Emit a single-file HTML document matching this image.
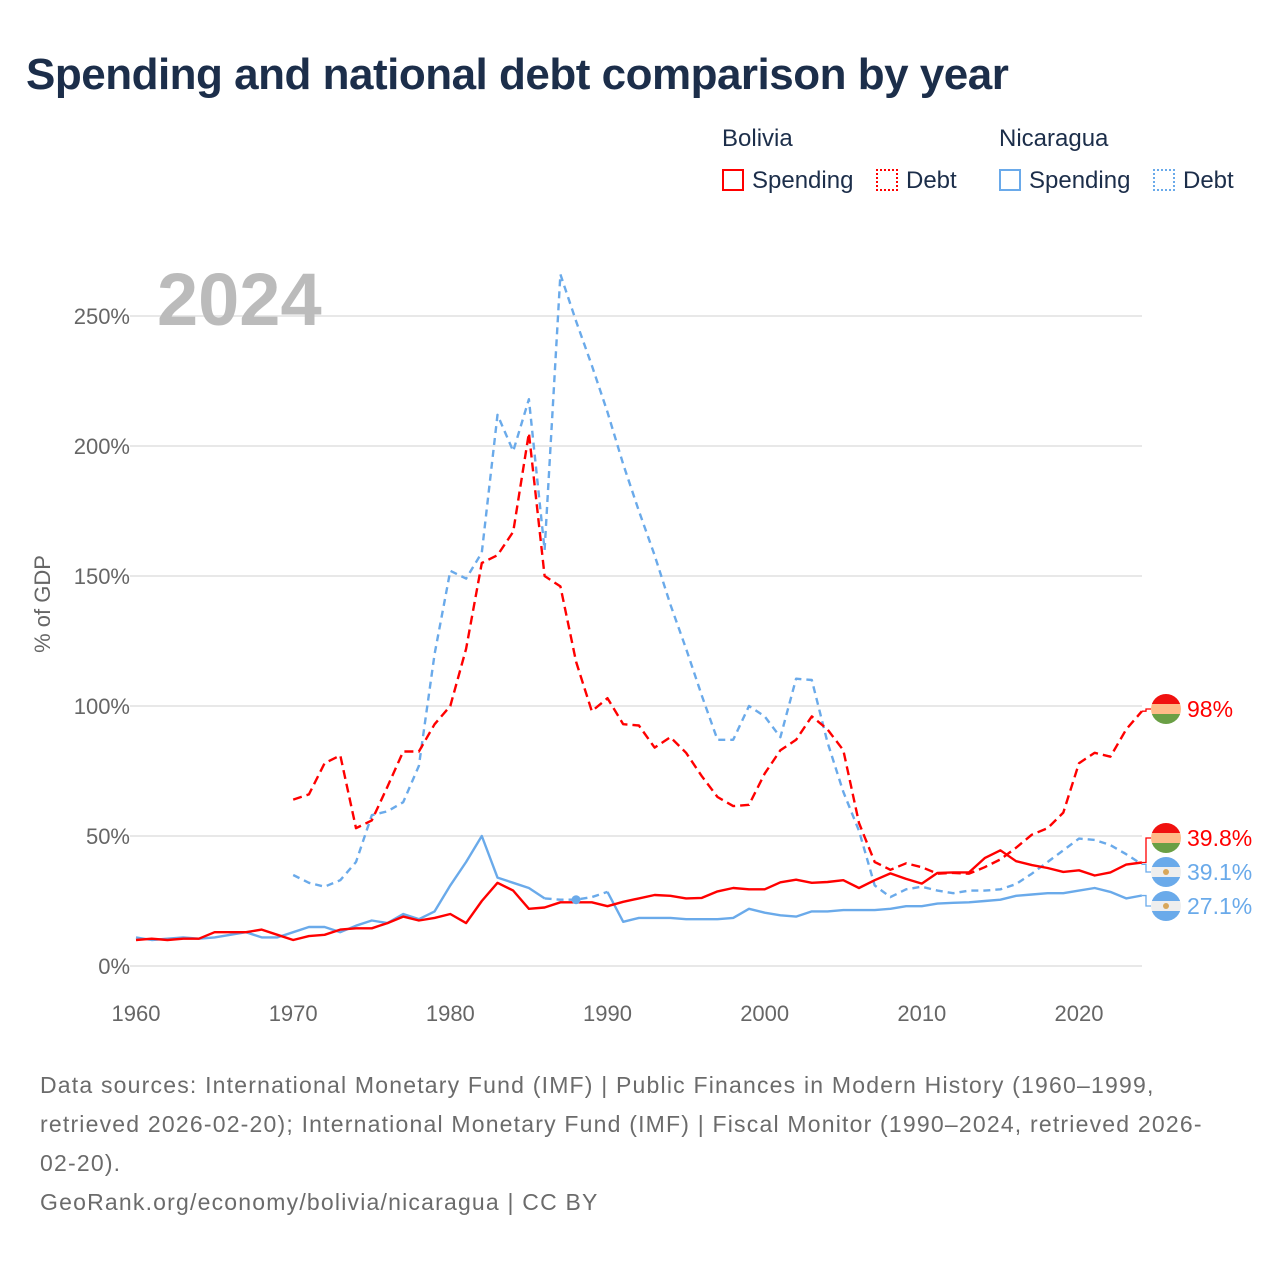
<!DOCTYPE html>
<html><head><meta charset="utf-8"><style>
body{margin:0;background:#fff;font-family:"Liberation Sans",sans-serif;}
#wrap{position:relative;width:1280px;height:1280px;overflow:hidden;}
.t{position:absolute;white-space:nowrap;}
</style></head><body>
<div id="wrap">
<div class="t" style="left:26px;top:50px;font-size:44px;font-weight:bold;color:#1c2e4a;letter-spacing:-0.5px;">Spending and national debt comparison by year</div>
<div class="t" style="left:722px;top:125px;font-size:24px;color:#1c2e4a;">Bolivia</div>
<div class="t" style="left:999px;top:125px;font-size:24px;color:#1c2e4a;">Nicaragua</div>
<div class="t" style="left:722px;top:167px;font-size:24px;color:#1c2e4a;"><span style="display:inline-block;width:22px;height:22px;border:2px solid #f00;box-sizing:border-box;vertical-align:-3px;margin-right:8px"></span>Spending</div>
<div class="t" style="left:876px;top:167px;font-size:24px;color:#1c2e4a;"><span style="display:inline-block;width:22px;height:22px;border:2px dotted #f00;box-sizing:border-box;vertical-align:-3px;margin-right:8px"></span>Debt</div>
<div class="t" style="left:999px;top:167px;font-size:24px;color:#1c2e4a;"><span style="display:inline-block;width:22px;height:22px;border:2px solid #6aaaea;box-sizing:border-box;vertical-align:-3px;margin-right:8px"></span>Spending</div>
<div class="t" style="left:1153px;top:167px;font-size:24px;color:#1c2e4a;"><span style="display:inline-block;width:22px;height:22px;border:2px dotted #6aaaea;box-sizing:border-box;vertical-align:-3px;margin-right:8px"></span>Debt</div>
<svg id="chart" width="1280" height="1280" style="position:absolute;left:0;top:0"></svg>
<div class="t" style="left:40px;top:1066px;font-size:23px;line-height:39px;color:#6b6b6b;letter-spacing:1.2px;">Data sources: International Monetary Fund (IMF) | Public Finances in Modern History (1960–1999,<br>retrieved 2026-02-20); International Monetary Fund (IMF) | Fiscal Monitor (1990–2024, retrieved 2026-<br>02-20).<br>GeoRank.org/economy/bolivia/nicaragua | CC BY</div>
</div>
<script>
const bolSpendYears0 = 1960;
const bolSpending = [10,10.5,10,10.5,10.5,13,13,13,14,12,10,11.5,12,14,14.5,14.5,16.5,19,17.5,18.5,20,16.5,25,32,29,22,22.5,24.5,24.5,24.5,23,24.7,26,27.3,27,26,26.2,28.7,30,29.5,29.5,32.2,33.2,32,32.3,33,30,33,35.6,33.5,31.7,35.8,36,36,41.5,44.5,40.3,38.8,37.7,36.2,36.8,34.8,36,39,39.8];
const nicSpending = [11,10,10.5,11,10.5,11,12,13,11,11,13,15,15,13,15.5,17.5,16.5,20,18,21,31,40,50,34,32,30,26,25.5,25.5,26.5,28.5,17,18.5,18.5,18.5,18,18,18,18.5,22,20.5,19.5,19,21,21,21.5,21.5,21.5,22,23,23,24,24.3,24.5,25,25.5,27,27.5,28,28,29,30,28.5,26,27.1];
const debtYears0 = 1970;
const bolDebt = [64,66,78,81,53,56,69,82.5,82.5,93,100,122,155,158,167,205,150,146,117,98,103,93,92.5,84,88,82,73,65,61.5,62,74,83,87,96,91,83,55,40,37,39.5,38,35.5,35.8,35.5,38,41,45.5,50.5,53,59,78,82,80.5,91,98];
const nicDebt = [35,32,30.5,33,40,58,59.5,63,77,120,152,149,159,212,198,218,160,266,248,231,213,193,175,158,139,122,104,87,87,100,96,88,110.5,110,86,67,52,31,26.5,29.5,30.5,29,28,29,29,29.5,31.5,35.5,40,44.5,49,48.5,46.5,43,39.1];
const yTicks = [0,50,100,150,200,250];
const xTicks = [1960,1970,1980,1990,2000,2010,2020];

const NS="http://www.w3.org/2000/svg";
const svg=document.getElementById('chart');
const X=y=>136+(y-1960)*(1079-136)/60;
const Y=v=>966-v*2.6;
function mk(tag,attrs,parent){const e=document.createElementNS(NS,tag);for(const k in attrs)e.setAttribute(k,attrs[k]);(parent||svg).appendChild(e);return e;}

yTicks.forEach(t=>{
  const g=mk('line',{x1:130,x2:1142,y1:Y(t),y2:Y(t),stroke:'#e8e8e8','stroke-width':2});
  
  
  const tx=mk('text',{x:130,y:Y(t)+8,'text-anchor':'end','font-size':22,fill:'#666','font-family':'Liberation Sans, sans-serif'});
  tx.textContent=t+'%';
  
  
});
xTicks.forEach(t=>{
  const tx=mk('text',{x:X(t),y:1021,'text-anchor':'middle','font-size':22,fill:'#666','font-family':'Liberation Sans, sans-serif'});
  tx.textContent=t;
  
  
});
const yt=mk('text',{x:0,y:0,transform:'translate(50,604) rotate(-90)','text-anchor':'middle','font-size':22,fill:'#666','font-family':'Liberation Sans, sans-serif'});
yt.textContent='% of GDP';


const yr=mk('text',{x:157,y:325,'font-size':74,'font-weight':'bold',fill:'#bbb','font-family':'Liberation Sans, sans-serif'});
yr.textContent='2024';



function pts(arr,y0,from,to){let s=[];arr.forEach((v,i)=>{const yy=y0+i;if(yy>=from&&yy<=to)s.push(X(yy).toFixed(1)+','+Y(v).toFixed(1));});return s.join(' ');}
function line(arr,y0,color,dash,name,from,to){
  const p=mk('polyline',{points:pts(arr,y0,from??0,to??9999),fill:'none',stroke:color,'stroke-width':2.4,'stroke-linejoin':'round'});
  if(dash)p.setAttribute('stroke-dasharray',dash);
  
  
}
line(nicDebt,debtYears0,'#6aaaea','7 5','nicaragua-debt-line');
line(bolDebt,debtYears0,'#f00','9 5','bolivia-debt-line');
line(nicSpending,bolSpendYears0,'#6aaaea',null,'nicaragua-spending-line',1960,1986);
line(nicSpending,bolSpendYears0,'#6aaaea','7 5','nicaragua-spending-gap',1986,1990);
line(nicSpending,bolSpendYears0,'#6aaaea',null,'nicaragua-spending-line-late',1990,2024);
line(bolSpending,bolSpendYears0,'#f00',null,'bolivia-spending-line');
const dot=mk('circle',{cx:X(1988),cy:Y(nicSpending[28]),r:4.5,fill:'#6aaaea'});



const ends=[
 {v:bolDebt[bolDebt.length-1],ly:709,c:'#f00',t:'98%',flag:'bol',n:'bolivia-debt-end-label'},
 {v:bolSpending[bolSpending.length-1],ly:838,c:'#f00',t:'39.8%',flag:'bol',n:'bolivia-spending-end-label'},
 {v:nicDebt[nicDebt.length-1],ly:872,c:'#6aaaea',t:'39.1%',flag:'nic',n:'nicaragua-debt-end-label'},
 {v:nicSpending[nicSpending.length-1],ly:906,c:'#6aaaea',t:'27.1%',flag:'nic',n:'nicaragua-spending-end-label'}];
let defs=mk('defs',{});
ends.forEach((e,i)=>{
  const cp=mk('clipPath',{id:'c'+i},defs);mk('circle',{cx:1166,cy:e.ly,r:15},cp);
  const yv=Y(e.v);
  const cn=mk('polyline',{points:`1142,${yv} 1146,${yv} 1146,${e.ly} 1151,${e.ly}`,fill:'none',stroke:e.c,'stroke-width':1.3});
  
  
  const g=mk('g',{'clip-path':`url(#c${i})`});
  
  
  const cols=e.flag==='bol'?['#f0110f','#ffbb88','#6a9f45']:['#6aaaea','#eeeeee','#6aaaea'];
  cols.forEach((c,k)=>mk('rect',{x:1151,y:e.ly-15+k*10,width:30,height:10,fill:c},g));
  if(e.flag==='nic')mk('circle',{cx:1166,cy:e.ly,r:3,fill:'#d9a75a'},g);
  const tx=mk('text',{x:1187,y:e.ly+8,'font-size':23,fill:e.c,'font-family':'Liberation Sans, sans-serif'});
  tx.textContent=e.t;
  
  
});
</script>
</body></html>
